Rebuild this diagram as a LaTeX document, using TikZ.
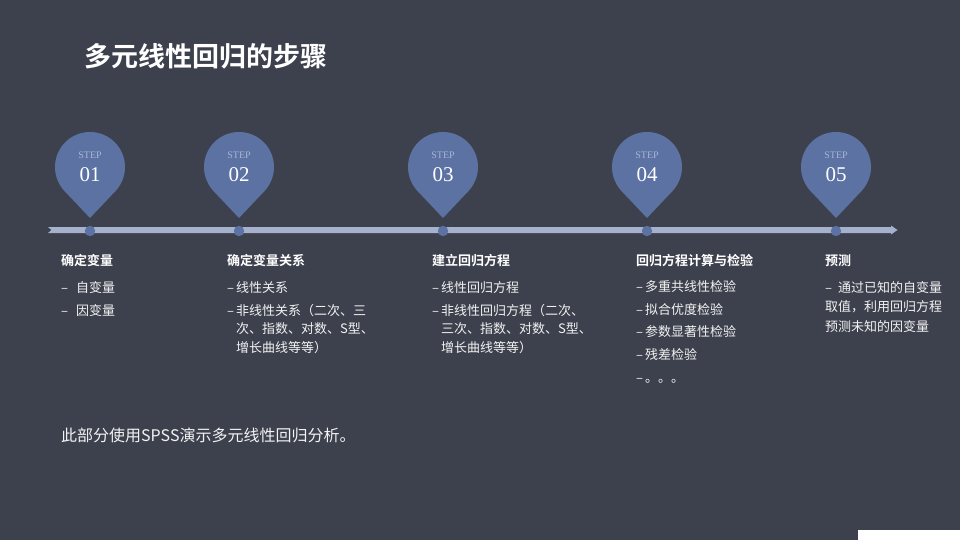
\documentclass[tikz,border=0pt]{standalone}
\usepackage{fontspec}
\setmainfont{Noto Sans CJK SC}[BoldFont={Noto Sans CJK SC Bold}]
\newfontfamily\stepfont{Liberation Serif}
\definecolor{bg}{HTML}{3D414D}
\definecolor{pinc}{HTML}{5B72A3}
\definecolor{barc}{HTML}{A6B1CE}
\definecolor{steptxt}{HTML}{AAB6D4}
\definecolor{itemc}{HTML}{F2F2F2}
\newcommand\itemdash[1]{\makebox[#1][l]{–}}
\begin{document}
\begin{tikzpicture}[x=1pt,y=-1pt]
\tikzset{
  txt/.style={anchor=base west, inner sep=0pt, text=itemc, font=\fontsize{13}{15}\selectfont},
  head/.style={anchor=base west, inner sep=0pt, text=white, font=\fontsize{13}{15}\selectfont\bfseries},
  steplbl/.style={inner sep=0pt, text=steptxt, font=\stepfont\fontsize{10}{12}\selectfont},
  stepnum/.style={inner sep=0pt, text=white, font=\stepfont\fontsize{21}{24}\selectfont},
  dotc/.style={fill=pinc},
  steppin/.pic={
    \fill[pinc] (0,0) circle[radius=35];
    \fill[pinc] (-25.5,24) -- (25.5,24) -- (0,51) -- cycle;
  }
}
% background
\fill[bg] (0,0) rectangle (960,540);
\useasboundingbox (0,0) rectangle (960,540);
\fill[white] (858,530) rectangle (960,540);

% title
\node[anchor=base west, inner sep=0pt, text=white, font=\fontsize{27}{30}\selectfont\bfseries] (title) at (84,67) {多元线性回归的步骤};

% timeline bar
\fill[barc] (48,227) -- (891,227) -- (891,225.5) -- (897.5,230) -- (891,234.5) -- (891,233) -- (48,233) -- (51.5,230) -- cycle;

% pins and dots
\foreach \cx/\n in {90/01,239/02,443/03,647/04,836/05}{
  \pic at (\cx,167) {steppin};
  \fill[dotc] (\cx,231) circle[radius=5.2];
  \node[steplbl] (step\n) at (\cx,155) {STEP};
  \node[stepnum] (num\n) at (\cx,175) {\n};
}

% column 1
\node[head] (h1) at (61,265.5) {确定变量};
\node[txt] (c1a) at (61,292) {\itemdash{15pt}自变量};
\node[txt] (c1b) at (61,315) {\itemdash{15pt}因变量};

% column 2
\node[head] (h2) at (227,265.5) {确定变量关系};
\node[txt] (c2a) at (227,292) {\itemdash{9pt}线性关系};
\node[txt] (c2b) at (227,315) {\itemdash{9pt}非线性关系（二次、三};
\node[txt] (c2c) at (236,333.7) {次、指数、对数、S型、};
\node[txt] (c2d) at (236,352.5) {增长曲线等等）};

% column 3
\node[head] (h3) at (432,265.5) {建立回归方程};
\node[txt] (c3a) at (432,292) {\itemdash{9pt}线性回归方程};
\node[txt] (c3b) at (432,315) {\itemdash{9pt}非线性回归方程（二次、};
\node[txt] (c3c) at (441,333.7) {三次、指数、对数、S型、};
\node[txt] (c3d) at (441,352.5) {增长曲线等等）};

% column 4
\node[head] (h4) at (636,265.5) {回归方程计算与检验};
\node[txt] (c4a) at (636,291.7) {\itemdash{9pt}多重共线性检验};
\node[txt] (c4b) at (636,314.3) {\itemdash{9pt}拟合优度检验};
\node[txt] (c4c) at (636,336.9) {\itemdash{9pt}参数显著性检验};
\node[txt] (c4d) at (636,359.5) {\itemdash{9pt}残差检验};
\node[txt] (c4e) at (636,382.1) {\itemdash{9pt}。。。};

% column 5
\node[head] (h5) at (825,265.5) {预测};
\node[txt] (c5a) at (825,292) {\itemdash{13pt}通过已知的自变量};
\node[txt] (c5b) at (825,311.3) {取值，利用回归方程};
\node[txt] (c5c) at (825,331) {预测未知的因变量};

% bottom note
\node[anchor=base west, inner sep=0pt, text=itemc, font=\fontsize{16}{18}\selectfont] (note) at (61,441) {此部分使用SPSS演示多元线性回归分析。};
\end{tikzpicture}
\end{document}
